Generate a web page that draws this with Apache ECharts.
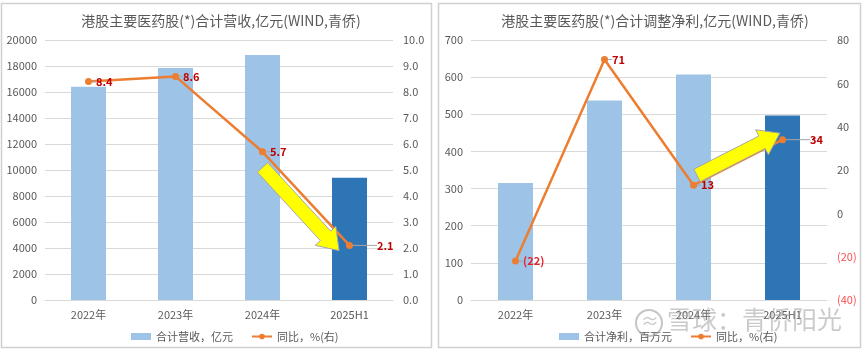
<!DOCTYPE html>
<html>
<head>
<meta charset="utf-8">
<script src="https://cdn.jsdelivr.net/npm/echarts@6/dist/echarts.min.js"></script>
<style>
    html, body { margin: 0; padding: 0; background: #fff; }
    #main { width: 863px; height: 353px; }
</style>
</head>
<body>
<div id="main"></div>
<script>
    // categories shared by both panels
    var categories = ['2022年', '2023年', '2024年', '2025H1'];

    // left panel: revenue (亿元) and yoy %
    var revenue = [16400, 17850, 18850, 9400];
    var revenueYoy = [8.4, 8.6, 5.7, 2.1];

    // right panel: adjusted net profit and yoy %
    var profit = [315, 537, 607, 497];
    var profitYoy = [-22, 71, 13, 34];

    // annotation arrows, [category index, right axis value]
    var leftArrow = [[2.0, 5.1], [2.88, 1.9]];
    var rightArrow = [[2.04, 17.5], [2.97, 37]];

    var FONT = '"Noto Sans CJK SC", "Noto Sans", sans-serif';
    var GREY = '#595959';
    var LIGHT = '#9DC3E6';
    var DARK = '#2E75B6';
    var ORANGE = '#ED7D31';
    var RED = '#C00000';

    function barData(values) {
        return values.map(function (v, i) {
            return {
                value: v,
                itemStyle: {color: i === values.length - 1 ? DARK : LIGHT}
            };
        });
    }

    function lineData(values) {
        return values.map(function (v) {
            return {
                value: v,
                label: {color: v < 0 ? '#E8202A' : RED}
            };
        });
    }

    function valueAxis(grid, min, max, interval, right, fmt) {
        return {
            type: 'value',
            gridIndex: grid,
            min: min,
            max: max,
            interval: interval,
            position: right ? 'right' : 'left',
            axisLine: {show: false},
            axisTick: {show: false},
            splitLine: {show: !right, lineStyle: {color: '#D9D9D9'}},
            axisLabel: {
                color: GREY,
                fontSize: 11,
                fontFamily: FONT,
                margin: right ? 10 : 8,
                formatter: fmt || function (v) { return String(v); },
                rich: {neg: {color: '#FF4D4D', fontSize: 11, fontFamily: FONT}}
            }
        };
    }

    function catAxis(grid) {
        return {
            type: 'category',
            gridIndex: grid,
            data: categories,
            axisLine: {lineStyle: {color: '#D9D9D9'}},
            axisTick: {show: false},
            axisLabel: {color: GREY, fontSize: 11, fontFamily: FONT, margin: 9}
        };
    }

    function lineSeries(name, xi, yi, values, leaderIdx) {
        return {
            type: 'line',
            name: name,
            xAxisIndex: xi,
            yAxisIndex: yi,
            data: lineData(values),
            symbol: 'circle',
            symbolSize: 7,
            z: 5,
            lineStyle: {color: ORANGE, width: 2.5},
            itemStyle: {color: ORANGE},
            label: {
                show: true,
                position: 'right',
                distance: 4,
                fontSize: 11,
                fontWeight: 'bold',
                fontFamily: FONT,
                formatter: function (p) {
                    var v = p.value;
                    return v < 0 ? '(' + (-v) + ')' : String(v);
                }
            },
            labelLine: {show: true, lineStyle: {color: '#A6A6A6', width: 1}},
            labelLayout: function (p) {
                if (p.dataIndex === leaderIdx) {
                    return {dx: 20};
                }
            }
        };
    }

    var chart = echarts.init(document.getElementById('main'), null, {renderer: 'canvas'});

    chart.setOption({
        animation: false,
        textStyle: {fontFamily: FONT},
        title: [
            {
                text: '港股主要医药股(*)合计营收,亿元(WIND,青侨)',
                left: 216, top: 9, textAlign: 'center',
                textStyle: {color: GREY, fontSize: 14, fontWeight: 'normal', fontFamily: FONT}
            },
            {
                text: '港股主要医药股(*)合计调整净利,亿元(WIND,青侨)',
                left: 650, top: 9, textAlign: 'center',
                textStyle: {color: GREY, fontSize: 14, fontWeight: 'normal', fontFamily: FONT}
            }
        ],
        legend: [
            {
                left: 126, top: 326,
                itemWidth: 20, itemHeight: 7, itemGap: 18,
                textStyle: {color: GREY, fontSize: 11, fontFamily: FONT},
                data: [
                    {name: '合计营收，亿元', icon: 'rect'},
                    {name: '同比，%(右)'}
                ]
            },
            {
                left: 554, top: 326,
                itemWidth: 20, itemHeight: 7, itemGap: 18,
                textStyle: {color: GREY, fontSize: 11, fontFamily: FONT},
                data: [
                    {name: '合计净利，百万元', icon: 'rect'},
                    {name: '同比，%(右) '}
                ]
            }
        ],
        grid: [
            {left: 45, right: 470, top: 40, bottom: 53},
            {left: 471, right: 36, top: 40, bottom: 53}
        ],
        xAxis: [catAxis(0), catAxis(1)],
        yAxis: [
            valueAxis(0, 0, 20000, 2000, false),
            valueAxis(0, 0, 10, 1, true, function (v) { return v.toFixed(1); }),
            valueAxis(1, 0, 700, 100, false),
            valueAxis(1, -40, 80, 20, true, function (v) {
                return v < 0 ? '{neg|(' + (-v) + ')}' : String(v);
            })
        ],
        series: [
            {
                type: 'bar',
                name: '合计营收，亿元',
                xAxisIndex: 0,
                yAxisIndex: 0,
                barWidth: 35,
                itemStyle: {color: LIGHT},
                data: barData(revenue)
            },
            lineSeries('同比，%(右)', 0, 1, revenueYoy, 3),
            {
                type: 'bar',
                name: '合计净利，百万元',
                xAxisIndex: 1,
                yAxisIndex: 2,
                barWidth: 35,
                itemStyle: {color: LIGHT},
                data: barData(profit)
            },
            lineSeries('同比，%(右) ', 1, 3, profitYoy, 3)
        ]
    });

    // data point -> pixel, allowing a fractional category index
    function toPixel(seriesIndex, pt) {
        var i0 = Math.floor(pt[0]);
        var f = pt[0] - i0;
        var a = chart.convertToPixel({seriesIndex: seriesIndex}, [i0, pt[1]]);
        var b = chart.convertToPixel({seriesIndex: seriesIndex}, [i0 + 1, pt[1]]);
        return [a[0] + (b[0] - a[0]) * f, a[1]];
    }

    function arrowPoints(s, e) {
        var dx = e[0] - s[0];
        var dy = e[1] - s[1];
        var len = Math.sqrt(dx * dx + dy * dy);
        var ux = dx / len;
        var uy = dy / len;
        var nx = -uy;
        var ny = ux;
        var w = 7;
        var h = 14;
        var hl = 20;
        var bx = e[0] - ux * hl;
        var by = e[1] - uy * hl;
        return [
            [s[0] + nx * w, s[1] + ny * w],
            [bx + nx * w, by + ny * w],
            [bx + nx * h, by + ny * h],
            [e[0], e[1]],
            [bx - nx * h, by - ny * h],
            [bx - nx * w, by - ny * w],
            [s[0] - nx * w, s[1] - ny * w]
        ];
    }

    function arrow(seriesIndex, seg) {
        return {
            type: 'polygon',
            z: 20,
            shape: {points: arrowPoints(toPixel(seriesIndex, seg[0]), toPixel(seriesIndex, seg[1]))},
            style: {fill: '#FFFF00', stroke: '#A6A6A6', lineWidth: 1}
        };
    }

    chart.setOption({
        graphic: [
            {
                type: 'rect', z: -1, silent: true,
                shape: {x: 1.5, y: 3.5, width: 430, height: 344},
                style: {fill: 'none', stroke: '#D0D0D0', lineWidth: 1.5}
            },
            {
                type: 'rect', z: -1, silent: true,
                shape: {x: 438.5, y: 3.5, width: 422, height: 344},
                style: {fill: 'none', stroke: '#D0D0D0', lineWidth: 1.5}
            },
            arrow(1, leftArrow),
            arrow(3, rightArrow),
            {
                type: 'circle', z: 30, silent: true,
                shape: {cx: 649, cy: 323, r: 13},
                style: {fill: 'none', stroke: 'rgba(150,150,150,0.55)', lineWidth: 2}
            },
            {
                type: 'text', z: 30, silent: true,
                left: 641, top: 312,
                style: {text: '≈', fill: 'rgba(150,150,150,0.55)', font: '18px ' + FONT}
            },
            {
                type: 'text', z: 30, silent: true,
                left: 667, top: 307,
                style: {text: '雪球：青侨阳光', fill: 'rgba(150,150,150,0.5)', font: '25px ' + FONT}
            }
        ]
    });
</script>
</body>
</html>
